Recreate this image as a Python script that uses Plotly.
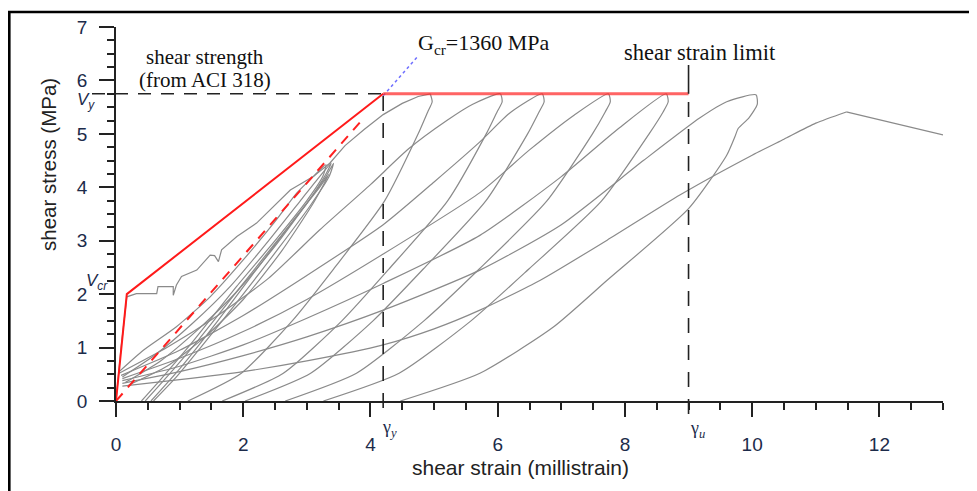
import plotly.graph_objects as go

# ---------------- data ----------------
# key points of the idealised (trilinear) model
GAMMA_CR, V_CR = 0.17, 2.0       # cracking point
GAMMA_Y, V_Y = 4.2, 5.75         # yield point
GAMMA_U = 9.0                    # shear strain limit
G_CR = 1.36                      # MPa / millistrain  (=1360 MPa)
GCR_DASH_END = 3.9
GCR_BLUE = [4.2, 4.75]

x_ticks = [0, 2, 4, 6, 8, 10, 12]
y_ticks = [0, 1, 2, 3, 4, 5, 6, 7]

# first (virgin) loading branch
virgin_x = [0, 0.08, 0.17, 0.32, 0.64, 0.66, 0.90, 0.90, 0.95, 1.03, 1.27, 1.48, 1.55, 1.61, 1.66, 1.90, 2.21, 2.47, 2.74, 2.84, 3.10, 3.36,
            3.60, 3.90, 4.20, 4.50, 4.75, 4.94]
virgin_y = [0, 1.0, 1.95, 2.01, 2.01, 2.14, 2.14, 1.98, 2.17, 2.33, 2.45, 2.73, 2.72, 2.61, 2.83, 3.08, 3.33, 3.64, 3.95, 4.02, 4.20, 4.45,
            4.78, 5.08, 5.36, 5.57, 5.70, 5.75]

# early small cycles (peak ~4.4 MPa)
e1_x = [0.05, 0.43, 0.95, 1.48, 2.00, 2.52, 2.84, 3.10, 3.30, 3.25, 3.00, 2.50, 1.90, 1.20, 0.70, 0.40]
e1_y = [0.55, 0.95, 1.39, 1.95, 2.64, 3.39, 3.89, 4.20, 4.42, 4.20, 3.75, 3.00, 2.15, 1.10, 0.40, 0.00]
e2_x = [0.10, 0.60, 1.20, 1.80, 2.40, 2.90, 3.20, 3.38, 3.30, 3.00, 2.50, 1.90, 1.30, 0.80, 0.46]
e2_y = [0.45, 0.85, 1.45, 2.15, 3.00, 3.75, 4.20, 4.45, 4.25, 3.70, 2.95, 2.05, 1.15, 0.45, 0.00]
e3_x = [0.15, 0.70, 1.30, 1.90, 2.50, 3.00, 3.30, 3.42, 3.35, 3.05, 2.55, 2.00, 1.40, 0.95, 0.59]
e3_y = [0.35, 0.75, 1.35, 2.05, 2.90, 3.70, 4.20, 4.45, 4.20, 3.65, 2.85, 2.00, 1.10, 0.45, 0.00]
e4_x = [0.20, 0.80, 1.40, 2.00, 2.60, 3.10, 3.35, 3.20, 2.80, 2.20, 1.60, 1.00, 0.55]
e4_y = [0.30, 0.65, 1.20, 1.90, 2.80, 3.70, 4.25, 4.00, 3.40, 2.45, 1.50, 0.60, 0.00]

# large cycles: reloading branch + unloading branch
c1_x = [4.94, 4.97, 4.90, 4.75, 4.22, 3.42, 2.77, 1.97, 1.13]
c1_y = [5.75, 5.60, 5.41, 5.00, 3.74, 2.47, 1.50, 0.52, 0.00]
c2_x = [0.05, 0.80, 1.60, 2.40, 3.20, 4.00, 4.60, 5.20, 5.60, 6.04, 6.07, 5.99, 5.82, 5.21, 4.29, 3.55, 2.63, 1.67]
c2_y = [0.52, 1.00, 1.60, 2.30, 3.20, 4.05, 4.72, 5.25, 5.55, 5.75, 5.60, 5.41, 5.00, 3.74, 2.47, 1.50, 0.52, 0.00]
c3_x = [0.08, 1.00, 2.00, 3.00, 4.20, 5.00, 5.72, 6.20, 6.70, 6.73, 6.65, 6.47, 5.81, 4.83, 4.04, 3.06, 2.03]
c3_y = [0.48, 0.95, 1.60, 2.35, 3.30, 4.10, 4.85, 5.40, 5.75, 5.60, 5.41, 5.00, 3.74, 2.47, 1.50, 0.52, 0.00]
c4_x = [0.10, 1.00, 2.00, 3.00, 4.20, 5.72, 6.50, 7.20, 7.74, 7.77, 7.69, 7.49, 6.77, 5.71, 4.84, 3.78, 2.66]
c4_y = [0.42, 0.80, 1.30, 1.90, 2.75, 3.90, 4.70, 5.35, 5.75, 5.60, 5.41, 5.00, 3.74, 2.47, 1.50, 0.52, 0.00]
c5_x = [0.10, 1.00, 2.00, 3.00, 4.20, 5.72, 7.00, 7.90, 8.65, 8.68, 8.60, 8.38, 7.63, 6.49, 5.58, 4.45, 3.26]
c5_y = [0.38, 0.65, 1.05, 1.55, 2.20, 3.10, 4.20, 5.10, 5.75, 5.60, 5.41, 5.00, 3.74, 2.47, 1.50, 0.52, 0.00]
c6_x = [0.10, 1.00, 2.00, 3.00, 4.20, 5.72, 7.00, 8.29, 9.18, 9.60, 10.06, 10.08, 9.95, 9.78, 9.73, 9.60, 9.00, 7.72, 6.87, 5.72, 4.47]
c6_y = [0.33, 0.55, 0.85, 1.20, 1.70, 2.45, 3.30, 4.50, 5.30, 5.60, 5.73, 5.55, 5.30, 5.10, 4.95, 4.60, 3.60, 2.26, 1.38, 0.52, 0.00]
# final loading to failure
c7_x = [0.10, 1.00, 2.00, 3.00, 4.20, 5.00, 5.72, 6.67, 7.72, 8.87, 10.00, 10.50, 11.00, 11.48, 12.20, 13.00]
c7_y = [0.28, 0.40, 0.55, 0.75, 1.05, 1.35, 1.70, 2.26, 3.01, 3.86, 4.60, 4.90, 5.20, 5.41, 5.20, 4.98]

cycle_branches = [(e1_x, e1_y), (e2_x, e2_y), (e3_x, e3_y), (e4_x, e4_y),
                  (c1_x, c1_y), (c2_x, c2_y), (c3_x, c3_y), (c4_x, c4_y), (c5_x, c5_y), (c6_x, c6_y)]

# ---------------- figure ----------------
# the page body has an 8 px margin, so the figure is drawn 8 px smaller and offset
OFF = 8
W, H = 977 - OFF, 491 - OFF
ML, MR, MT, MB = 116 - OFF, 34, 27 - OFF, 90
PW, PH = W - ML - MR, H - MT - MB
X_MAX, Y_MAX = 13, 7


def px_x(p):   # page pixel -> paper (x)
    return (p - OFF - ML) / PW


def px_y(p):   # page pixel -> paper (y)
    return (H + OFF - MB - p) / PH


GRAY = "#8a8a8a"
NAVY = "#1c2b4a"

fig = go.Figure()

fig.add_trace(go.Scatter(x=virgin_x, y=virgin_y, mode="lines",
                         line=dict(color=GRAY, width=1.2), hoverinfo="skip", showlegend=False))
for bx, by in cycle_branches:
    fig.add_trace(go.Scatter(x=bx, y=by, mode="lines",
                             line=dict(color=GRAY, width=1.2, shape="spline", smoothing=0.6),
                             hoverinfo="skip", showlegend=False))
fig.add_trace(go.Scatter(x=c7_x[:-2], y=c7_y[:-2], mode="lines",
                         line=dict(color=GRAY, width=1.2, shape="spline", smoothing=0.6),
                         hoverinfo="skip", showlegend=False))
fig.add_trace(go.Scatter(x=c7_x[-3:], y=c7_y[-3:], mode="lines",
                         line=dict(color=GRAY, width=1.2), hoverinfo="skip", showlegend=False))

# G_cr line (red dashed) and its extension (blue dotted)
fig.add_trace(go.Scatter(x=[0, GCR_DASH_END], y=[0, G_CR * GCR_DASH_END], mode="lines",
                         line=dict(color="#ff2020", width=2, dash="10px,8px"), showlegend=False))
fig.add_trace(go.Scatter(x=GCR_BLUE, y=[G_CR * v for v in GCR_BLUE], mode="lines",
                         line=dict(color="#6f6fff", width=1.5, dash="3px,3px"), showlegend=False))

# trilinear envelope
fig.add_trace(go.Scatter(x=[0, GAMMA_CR, GAMMA_Y], y=[0, V_CR, V_Y], mode="lines",
                         line=dict(color="#ff1a1a", width=2), showlegend=False))
fig.add_trace(go.Scatter(x=[GAMMA_Y, GAMMA_U], y=[V_Y, V_Y], mode="lines",
                         line=dict(color="rgba(255,40,40,0.72)", width=3), showlegend=False))

shapes = [
    # horizontal dashed line at V_y
    dict(type="line", xref="paper", yref="y", x0=px_x(92), x1=GAMMA_Y / X_MAX, y0=V_Y, y1=V_Y,
         line=dict(color="#222", width=1.6, dash="13px,10px")),
    # vertical dashed line at gamma_y
    dict(type="line", xref="x", yref="paper", x0=GAMMA_Y, x1=GAMMA_Y, y0=px_y(408), y1=V_Y / Y_MAX,
         line=dict(color="#222", width=1.6, dash="15px,12px")),
    # vertical dashed line at gamma_u
    dict(type="line", xref="x", yref="paper", x0=GAMMA_U, x1=GAMMA_U, y0=px_y(414), y1=V_Y / Y_MAX,
         line=dict(color="#222", width=1.6, dash="15px,12px")),
    dict(type="line", xref="x", yref="paper", x0=GAMMA_U, x1=GAMMA_U, y0=V_Y / Y_MAX, y1=px_y(65),
         line=dict(color="#222", width=1.6)),
    # outer frame
    dict(type="rect", xref="paper", yref="paper", x0=px_x(9.3), x1=px_x(1000), y0=px_y(520), y1=px_y(12),
         line=dict(color="black", width=2.6), fillcolor="rgba(0,0,0,0)"),
]

SERIF = "Liberation Serif"
SANS = "Liberation Sans"
ann = [
    dict(text="shear strength", x=px_x(205), y=px_y(57), font=dict(family=SERIF, size=21, color="#111")),
    dict(text="(from ACI 318)", x=px_x(205), y=px_y(80), font=dict(family=SERIF, size=21, color="#111")),
    dict(text="G<sub>cr</sub>=1360 MPa", x=px_x(416), y=px_y(44), xanchor="left",
         font=dict(family=SERIF, size=22, color="#111")),
    dict(text="shear strain limit", x=px_x(622), y=px_y(52), xanchor="left",
         font=dict(family=SERIF, size=22.5, color="#111")),
    dict(text="<i>V<sub>y</sub></i>", x=px_x(86), y=px_y(101), font=dict(family=SANS, size=17, color=NAVY)),
    dict(text="<i>V<sub>cr</sub></i>", x=px_x(97), y=px_y(282), font=dict(family=SANS, size=17, color=NAVY)),
    dict(text="γ<sub><i>y</i></sub>", x=px_x(389), y=px_y(428), font=dict(family=SERIF, size=18, color=NAVY)),
    dict(text="γ<sub><i>u</i></sub>", x=px_x(697), y=px_y(429), font=dict(family=SERIF, size=18, color=NAVY)),
    dict(text="shear stress (MPa)", x=px_x(48), y=px_y(165), textangle=-90,
         font=dict(family=SANS, size=20.5, color="#222")),
    dict(text="shear strain (millistrain)", x=px_x(520), y=px_y(467),
         font=dict(family=SANS, size=21, color="#222")),
]
for a in ann:
    a.setdefault("xref", "paper")
    a.setdefault("yref", "paper")
    a.setdefault("xanchor", "center")
    a["yanchor"] = "middle"
    a["showarrow"] = False
fig.update_layout(annotations=ann, shapes=shapes)

axis_common = dict(showline=True, linecolor="#222", linewidth=1.6, ticks="outside", tickcolor="#222",
                   tickwidth=1.6, showgrid=False, zeroline=False,
                   tickfont=dict(family=SANS, size=19, color=NAVY))
fig.update_xaxes(range=[0, X_MAX], tickvals=x_ticks, ticklen=14, ticklabelstandoff=11,
                 minor=dict(dtick=0.5, ticklen=7, tickcolor="#222", tickwidth=1.6, ticks="outside"),
                 **axis_common)
fig.update_yaxes(range=[0, Y_MAX], tickvals=y_ticks, ticklen=15, ticklabelstandoff=8,
                 minor=dict(dtick=0.25, ticklen=7, tickcolor="#222", tickwidth=1.6, ticks="outside"),
                 **axis_common)

fig.update_layout(width=W, height=H, margin=dict(l=ML, r=MR, t=MT, b=MB, autoexpand=False),
                  paper_bgcolor="white", plot_bgcolor="white", showlegend=False)

fig.write_html("out.html")
